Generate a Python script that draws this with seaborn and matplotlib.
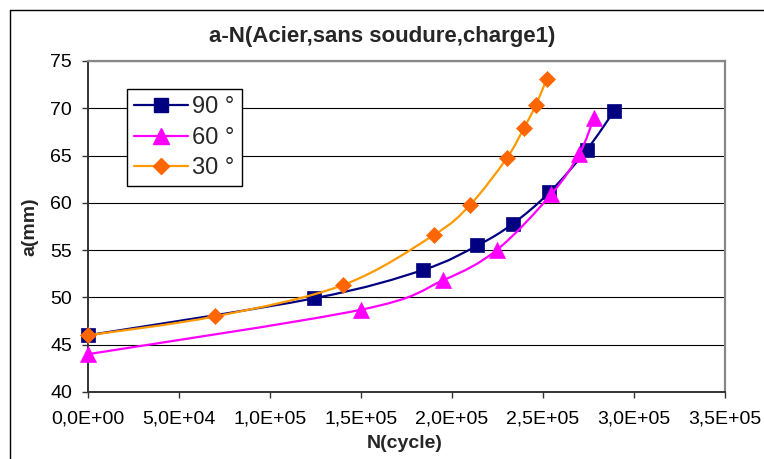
import numpy as np
import pandas as pd
import matplotlib
matplotlib.use("Agg")
import matplotlib.pyplot as plt
import seaborn as sns
from matplotlib.path import Path
from matplotlib.patches import PathPatch
from matplotlib.lines import Line2D
from matplotlib.ticker import FuncFormatter, MultipleLocator

# ---- data ----
labels = ["90 °", "60 °", "30 °"]
n90 = [0, 1.24e5, 1.84e5, 2.14e5, 2.335e5, 2.535e5, 2.74e5, 2.89e5]
a90 = [46.0, 49.9, 52.9, 55.5, 57.8, 61.1, 65.6, 69.7]
n60 = [0, 1.50e5, 1.95e5, 2.245e5, 2.545e5, 2.70e5, 2.78e5]
a60 = [44.0, 48.7, 51.8, 55.0, 60.9, 65.2, 69.0]
n30 = [0, 7.0e4, 1.40e5, 1.90e5, 2.10e5, 2.30e5, 2.395e5, 2.46e5, 2.52e5]
a30 = [46.0, 48.0, 51.3, 56.6, 59.8, 64.7, 67.9, 70.3, 73.1]
title = "a-N(Acier,sans soudure,charge1)"
xlabel = "N(cycle)"
ylabel = "a(mm)"

sns.set_style("white")
plt.rcParams["font.family"] = ["Liberation Sans", "DejaVu Sans"]

W, H = 764, 459
fig = plt.figure(figsize=(W / 100, H / 100), dpi=100)
L, R, T, B = 88, 725, 61, 392
ax = fig.add_axes([L / W, 1 - B / H, (R - L) / W, (B - T) / H])


def smooth_path(xs, ys):
    p = np.column_stack([xs, ys]).astype(float)
    n = len(p)
    verts = [p[0]]
    codes = [Path.MOVETO]
    for i in range(n - 1):
        p0 = p[i - 1] if i > 0 else p[i]
        p1 = p[i]
        p2 = p[i + 1]
        p3 = p[i + 2] if i + 2 < n else p[i + 1]
        c1 = p1 + (p2 - p0) / 6.0
        c2 = p2 - (p3 - p1) / 6.0
        verts += [c1, c2, p2]
        codes += [Path.CURVE4] * 3
    return Path(verts, codes)


series = [
    (labels[0], n90, a90, "#000080", "#000080", "s", 10),
    (labels[1], n60, a60, "#FF00FF", "#FF00FF", "^", 11),
    (labels[2], n30, a30, "#FF9900", "#FF6600", "D", 8.3),
]

handles = []
for k, (lab, xs, ys, lc, mc, mk, ms) in enumerate(series):
    patch = PathPatch(smooth_path(xs, ys), facecolor="none", edgecolor=lc,
                      lw=1.6, zorder=3 + 2 * k)
    ax.add_patch(patch)
    df = pd.DataFrame({"N": xs, "a": ys})
    sns.lineplot(data=df, x="N", y="a", ax=ax, linewidth=0, marker=mk,
                 markersize=ms, color=mc, markerfacecolor=mc,
                 markeredgecolor=mc, markeredgewidth=0.5, clip_on=False,
                 zorder=4 + 2 * k, sort=False, estimator=None)
    handles.append(Line2D([], [], color=lc, lw=1.6, marker=mk, markersize=ms,
                          markerfacecolor=mc, markeredgecolor=mc))

ax.set_xlim(0, 3.5e5)
ax.set_ylim(40, 75)
ax.xaxis.set_major_locator(MultipleLocator(5e4))
ax.yaxis.set_major_locator(MultipleLocator(5))
ax.xaxis.set_major_formatter(FuncFormatter(lambda v, p: f"{v:.1E}".replace(".", ",")))
ax.grid(axis="y", color="black", lw=0.8, zorder=1)
ax.grid(axis="x", visible=False)
ax.set_axisbelow(True)

for s in ["left", "bottom"]:
    ax.spines[s].set_color("#333333")
    ax.spines[s].set_linewidth(1.4)
for s in ["top", "right"]:
    ax.spines[s].set_color("#888888")
    ax.spines[s].set_linewidth(1.6)

ax.tick_params(axis="both", which="major", direction="out", length=4.5,
               width=1, color="#333333", labelsize=14, labelcolor="black",
               left=True, bottom=True)
ax.tick_params(axis="y", pad=7)
ax.tick_params(axis="x", pad=9)

ax.set_xlabel(xlabel, fontsize=14, fontweight="bold", va="center")
ax.set_ylabel(ylabel, fontsize=14, fontweight="bold", va="center")
ax.xaxis.set_label_coords((405 - L) / (R - L), (B - 443) / (B - T))
ax.yaxis.set_label_coords((29.5 - L) / (R - L), (B - 227) / (B - T))

fig.text(382 / W, 1 - 41.7 / H, title, fontsize=16, fontweight="bold",
         ha="center", va="baseline")

leg = ax.legend(handles, labels, loc="upper left",
                bbox_to_anchor=((127.3 - L) / (R - L), (B - 89.3) / (B - T)),
                fontsize=17, frameon=True, fancybox=False, framealpha=1,
                edgecolor="black", handlelength=2.25, handletextpad=0.2,
                borderpad=0.3, labelspacing=0.36, borderaxespad=0)
leg.get_frame().set_linewidth(1.0)
leg.set_zorder(20)

# outer chart frame
fig.add_artist(Line2D([10 / W, 10 / W], [0, 1 - 9.5 / H], color="black",
                      lw=1, transform=fig.transFigure))
fig.add_artist(Line2D([10 / W, 1], [1 - 9.5 / H, 1 - 9.5 / H], color="black",
                      lw=1, transform=fig.transFigure))

fig.savefig("out.png", dpi=100, facecolor="white")
